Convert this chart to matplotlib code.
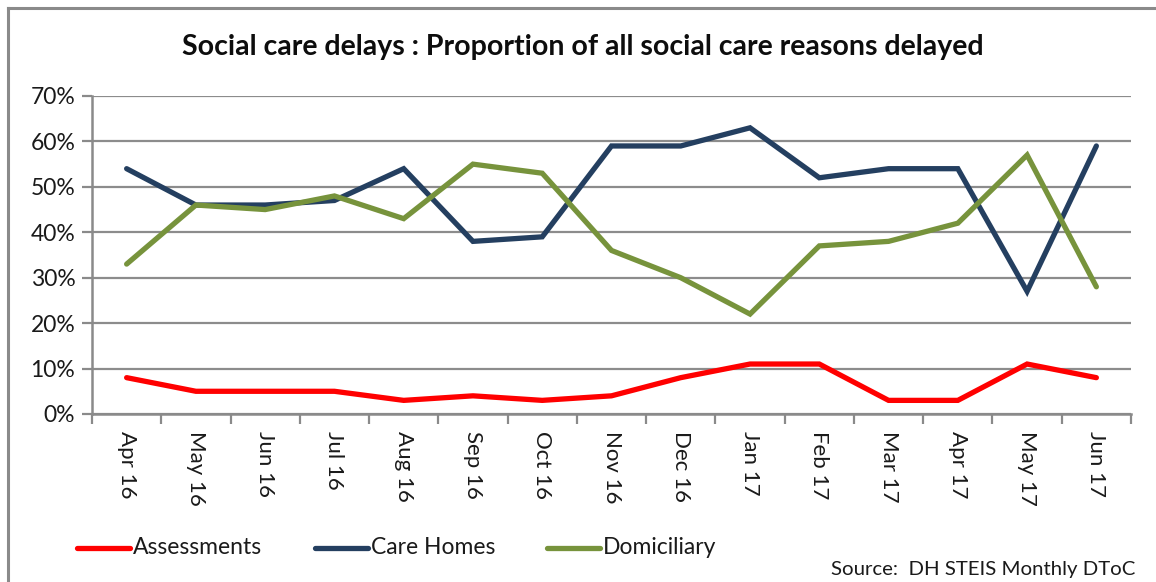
import matplotlib
matplotlib.use("Agg")
import matplotlib.pyplot as plt
from matplotlib.lines import Line2D
from matplotlib.ticker import FuncFormatter, FixedLocator

months = ["Apr 16", "May 16", "Jun 16", "Jul 16", "Aug 16", "Sep 16", "Oct 16",
          "Nov 16", "Dec 16", "Jan 17", "Feb 17", "Mar 17", "Apr 17", "May 17", "Jun 17"]
assessments = [8, 5, 5, 5, 3, 4, 3, 4, 8, 11, 11, 3, 3, 11, 8]
care_homes = [54, 46, 46, 47, 54, 38, 39, 59, 59, 63, 52, 54, 54, 27, 59]
domiciliary = [33, 46, 45, 48, 43, 55, 53, 36, 30, 22, 37, 38, 42, 57, 28]
y_ticks = [0, 10, 20, 30, 40, 50, 60, 70]

series = [("Assessments", assessments, "#FF0000"),
          ("Care Homes", care_homes, "#243F60"),
          ("Domiciliary", domiciliary, "#77933C")]

plt.rcParams["font.family"] = ["Lato", "DejaVu Sans"]

W, H = 1156, 582
fig = plt.figure(figsize=(W / 100, H / 100), dpi=100)
fig.patch.set_facecolor("white")

# chart frame (top and left edges)
frame_col = "#8A8A8A"
fig.add_artist(Line2D([8 / W, 1.0], [1 - 8 / H, 1 - 8 / H], color=frame_col, lw=2.2,
                      transform=fig.transFigure))
fig.add_artist(Line2D([8 / W, 8 / W], [0, 1 - 8 / H], color=frame_col, lw=2.2,
                      transform=fig.transFigure))

ax = fig.add_axes([92 / W, 1 - 414 / H, (1131 - 92) / W, (414 - 96) / H])
x = list(range(len(months)))
for name, vals, col in series:
    ax.plot(x, vals, color=col, lw=3.8, solid_capstyle="round",
            solid_joinstyle="miter", label=name, zorder=3)

ax.set_xlim(-0.5, len(months) - 0.5)
ax.set_ylim(0, 70)
ax.set_yticks(y_ticks)
ax.yaxis.set_major_formatter(FuncFormatter(lambda v, p: f"{int(v)}%"))
ax.grid(axis="y", color="#8C8C8C", lw=1.6, zorder=1)

# category ticks on bin edges, labels at bin centres
ax.xaxis.set_major_locator(FixedLocator([i - 0.5 for i in range(len(months) + 1)]))
ax.xaxis.set_major_formatter(FuncFormatter(lambda v, p: ""))
ax.xaxis.set_minor_locator(FixedLocator(x))
ax.set_xticklabels(months, minor=True, rotation=270, fontsize=16, color="#1A1A1A")
ax.tick_params(axis="x", which="minor", length=0, pad=12)
ax.tick_params(axis="x", which="major", length=7, width=1.6, color="#8A8A8A")
ax.tick_params(axis="y", length=7, width=1.6, color="#8A8A8A", labelsize=16.5,
               labelcolor="#1A1A1A", pad=5)

for s in ["top", "right"]:
    ax.spines[s].set_visible(False)
for s in ["left", "bottom"]:
    ax.spines[s].set_color("#8A8A8A")
    ax.spines[s].set_linewidth(1.8)

fig.text(583 / W, 1 - 47 / H,
         "Social care delays : Proportion of all social care reasons delayed",
         ha="center", va="center", fontsize=20.5, fontweight="bold", color="#0D0D0D")

# legend
leg_items = [(77, "Assessments", "#FF0000"), (315, "Care Homes", "#243F60"),
             (547, "Domiciliary", "#77933C")]
for x0, name, col in leg_items:
    fig.add_artist(Line2D([x0 / W, (x0 + 53) / W], [1 - 548 / H, 1 - 548 / H],
                          color=col, lw=3.8, solid_capstyle="round",
                          transform=fig.transFigure))
    fig.text((x0 + 56) / W, 1 - 547 / H, name, ha="left", va="center",
             fontsize=16.5, color="#1A1A1A")

fig.text(1135 / W, 1 - 569 / H, "Source:  DH STEIS Monthly DToC", ha="right",
         va="center", fontsize=14.7, color="#1A1A1A")

fig.savefig("out.png", dpi=100)
